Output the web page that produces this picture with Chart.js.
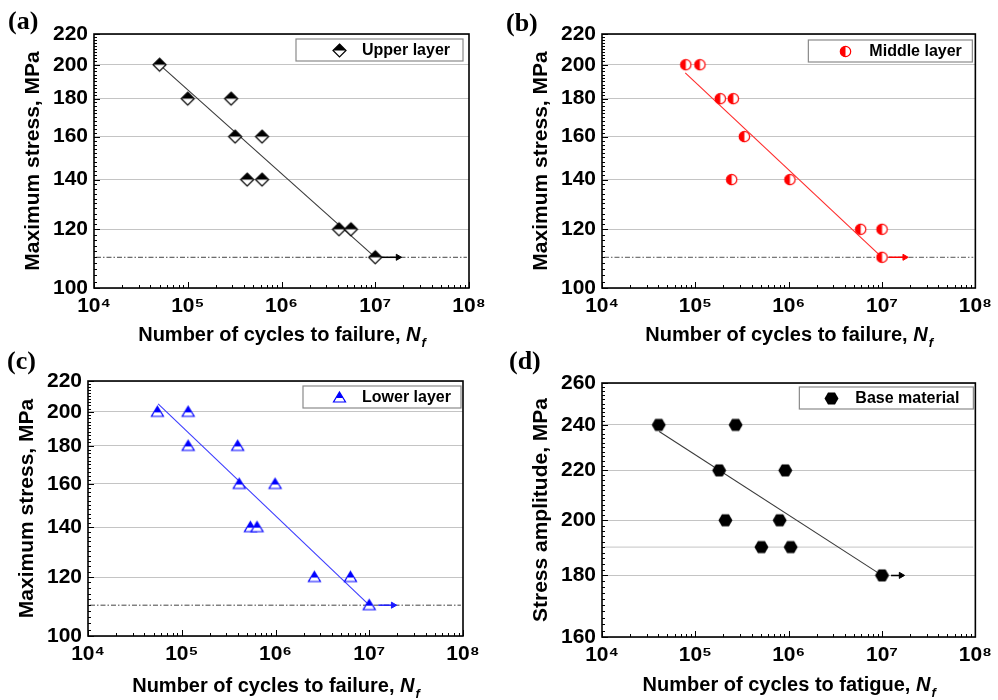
<!DOCTYPE html>
<html>
<head>
<meta charset="utf-8">
<title>S-N curves</title>
<script src="https://cdn.jsdelivr.net/npm/chart.js@4.4.1/dist/chart.umd.min.js"></script>
<style>
  html, body { margin:0; padding:0; background:#fff; }
  #fig { position:relative; width:998px; height:700px; background:#fff; overflow:hidden; }
  .pane { position:absolute; width:499px; height:350px; }
  .pane canvas { display:block; }
  .tag { position:absolute; font-family:'Liberation Serif','Times New Roman',serif; font-weight:bold; font-size:26px; line-height:26px; color:#000; }
</style>
</head>
<body>
<div id="fig">
  <div class="pane" style="left:0;top:0"><canvas id="chartA" width="499" height="350"></canvas></div>
  <div class="pane" style="left:499px;top:0"><canvas id="chartB" width="499" height="350"></canvas></div>
  <div class="pane" style="left:0;top:350px"><canvas id="chartC" width="499" height="350"></canvas></div>
  <div class="pane" style="left:499px;top:350px"><canvas id="chartD" width="499" height="350"></canvas></div>
  <div class="tag" style="left:8px;top:8px">(a)</div>
  <div class="tag" style="left:506px;top:10px">(b)</div>
  <div class="tag" style="left:7px;top:348px">(c)</div>
  <div class="tag" style="left:509px;top:348px">(d)</div>
</div>
<script>
// ---------------- data ----------------
const xTicks = [1e4, 1e5, 1e6, 1e7, 1e8];
const xTickLabels = ['10\u2074', '10\u2075', '10\u2076', '10\u2077', '10\u2078'];
const yTicksLayer = [100, 120, 140, 160, 180, 200, 220];
const yTicksBase = [160, 180, 200, 220, 240, 260];

// (a) upper layer
const upperCycles = [5.0e4, 1.0e5, 2.9e5, 3.2e5, 6.2e5, 4.3e5, 6.2e5, 4.1e6, 5.5e6, 1.0e7];
const upperStress = [200, 180, 180, 160, 160, 140, 140, 120, 120, 110];
const upperFitCycles = [5.0e4, 1.0e7];
const upperFitStress = [200, 110];
const upperArrowCycles = [1.17e7, 1.75e7];
const upperArrowStress = [110, 110];

// (b) middle layer
const middleCycles = [7.9e4, 1.12e5, 1.85e5, 2.55e5, 3.35e5, 2.45e5, 1.03e6, 5.9e6, 1.0e7, 1.0e7];
const middleStress = [200, 200, 180, 180, 160, 140, 140, 120, 120, 110];
const middleFitCycles = [7.8e4, 1.0e7];
const middleFitStress = [195, 110];
const middleArrowCycles = [1.18e7, 1.75e7];
const middleArrowStress = [110, 110];

// (c) lower layer
const lowerCycles = [5.5e4, 1.17e5, 1.17e5, 3.95e5, 4.1e5, 9.9e5, 5.4e5, 6.35e5, 2.6e6, 6.3e6, 1.0e7];
const lowerStress = [200, 200, 180, 180, 160, 160, 140, 140, 120, 120, 110];
const lowerFitCycles = [5.6e4, 1.0e7];
const lowerFitStress = [205, 110];
const lowerArrowCycles = [1.25e7, 1.8e7];
const lowerArrowStress = [110, 110];

// (d) base material
const baseCycles = [4.05e4, 2.7e5, 1.8e5, 9.2e5, 2.1e5, 8.0e5, 5.1e5, 1.05e6, 1.0e7];
const baseStress = [240, 240, 220, 220, 200, 200, 190, 190, 180];
const baseFitCycles = [4.1e4, 1.0e7];
const baseFitStress = [237, 180];
const baseArrowCycles = [1.25e7, 1.6e7];
const baseArrowStress = [180, 180];

// horizontal reference lines (fatigue limit)
const limitCycles = [1.05e4, 9.5e7];
const layerLimitStress = [110, 110];
const baseLimitStress = [190, 190];

// ---------------- helpers ----------------
const FONT = "'Liberation Sans', Arial, Helvetica, sans-serif";
Chart.defaults.font.family = FONT;
const pts = (xs, ys) => xs.map((x, i) => ({ x: x, y: ys[i] }));

function markerCanvas(kind, color) {
  const S = 17, m = S / 2;
  const c = document.createElement('canvas');
  c.width = S; c.height = S;
  const g = c.getContext('2d');
  g.lineWidth = 1.2; g.strokeStyle = color;
  if (kind === 'diamond') {
    const r = 6.5;
    const path = () => { g.beginPath(); g.moveTo(m, m - r); g.lineTo(m + r, m); g.lineTo(m, m + r); g.lineTo(m - r, m); g.closePath(); };
    path(); g.fillStyle = '#fff'; g.fill();
    g.beginPath(); g.moveTo(m, m - r); g.lineTo(m + r, m); g.lineTo(m - r, m); g.closePath();
    g.fillStyle = color; g.fill();
    path(); g.stroke();
  } else if (kind === 'circle') {
    const r = 5.2;
    g.beginPath(); g.arc(m, m, r, 0, 2 * Math.PI); g.fillStyle = '#fff'; g.fill();
    g.beginPath(); g.moveTo(m, m - r); g.arc(m, m, r, -Math.PI / 2, Math.PI / 2, true); g.closePath();
    g.fillStyle = color; g.fill();
    g.beginPath(); g.arc(m, m, r, 0, 2 * Math.PI); g.stroke();
  } else if (kind === 'triangle') {
    const w = 6, top = m - 5.5, bot = m + 4.5;
    const path = () => { g.beginPath(); g.moveTo(m, top); g.lineTo(m + w, bot); g.lineTo(m - w, bot); g.closePath(); };
    path(); g.fillStyle = '#fff'; g.fill();
    g.save(); g.beginPath(); g.rect(0, 0, S, m + 0.5); g.clip();
    path(); g.fillStyle = color; g.fill(); g.restore();
    path(); g.stroke();
  } else if (kind === 'hexagon') {
    const r = 7;
    g.beginPath();
    for (let k = 0; k < 6; k++) {
      const a = k * Math.PI / 3;
      const px = m + r * Math.cos(a), py = m + r * Math.sin(a);
      if (k === 0) g.moveTo(px, py); else g.lineTo(px, py);
    }
    g.closePath(); g.fillStyle = color; g.fill();
  }
  return c;
}

// frame + inward ticks
const framePlugin = {
  id: 'frame',
  afterDatasetsDraw(chart, args, o) {
    const { ctx, chartArea: a, scales: { x, y } } = chart;
    ctx.save();
    ctx.strokeStyle = '#000'; ctx.lineWidth = 1;
    ctx.beginPath();
    const lo = Math.round(Math.log10(x.min)), hi = Math.round(Math.log10(x.max));
    for (let e = lo; e <= hi; e++) {
      for (let mm = 1; mm <= 9; mm++) {
        const v = mm * Math.pow(10, e);
        if (v > x.max * 1.0001) break;
        const px = Math.round(x.getPixelForValue(v)) + 0.5;
        const len = mm === 1 ? 6 : 3;
        ctx.moveTo(px, a.bottom); ctx.lineTo(px, a.bottom - len);
      }
    }
    const step = o.yMinorStep || 2;
    for (let v = y.min; v <= y.max + 1e-6; v += step) {
      const py = Math.round(y.getPixelForValue(v)) + 0.5;
      const major = y.ticks.some(t => Math.abs(t.value - v) < 1e-6);
      ctx.moveTo(a.left, py); ctx.lineTo(a.left + (major ? 6 : 3), py);
    }
    ctx.stroke();
    ctx.lineWidth = 1.6;
    ctx.strokeRect(a.left, a.top, a.right - a.left, a.bottom - a.top);
    ctx.restore();
  }
};

// boxed legend inside plot area
const boxLegend = {
  id: 'boxLegend',
  afterDatasetsDraw(chart, args, o) {
    const { ctx, chartArea: a } = chart;
    const ds = chart.data.datasets[0];
    const left = a.right - o.right - o.width, top = a.top + o.top, h = o.height;
    ctx.save();
    ctx.fillStyle = '#fff'; ctx.fillRect(left, top, o.width, h);
    ctx.strokeStyle = '#8a8a8a'; ctx.lineWidth = 1.2; ctx.strokeRect(left, top, o.width, h);
    const img = ds.pointStyle;
    ctx.drawImage(img, Math.round(left + o.markerX - img.width / 2), Math.round(top + h / 2 - img.height / 2));
    ctx.font = 'bold 16px ' + FONT; ctx.fillStyle = '#000';
    ctx.textBaseline = 'middle'; ctx.textAlign = 'left';
    ctx.fillText(ds.label, left + o.textX, top + h / 2 + 1);
    ctx.restore();
  }
};

// x-axis title with italic N and subscript f
const richXTitle = {
  id: 'richXTitle',
  afterDraw(chart, args, o) {
    const { ctx, chartArea: a } = chart;
    const f1 = 'bold 20px ' + FONT, f2 = 'italic bold 20px ' + FONT, f3 = 'italic bold 13px ' + FONT;
    ctx.save();
    ctx.fillStyle = '#000'; ctx.textBaseline = 'alphabetic'; ctx.textAlign = 'left';
    ctx.font = f1; const w1 = ctx.measureText(o.text).width;
    ctx.font = f2; const w2 = ctx.measureText(o.symbol).width;
    ctx.font = f3; const w3 = ctx.measureText(o.sub).width;
    let x = (a.left + a.right) / 2 - (w1 + w2 + w3) / 2;
    const y = a.bottom + o.offset;
    ctx.font = f1; ctx.fillText(o.text, x, y); x += w1;
    ctx.font = f2; ctx.fillText(o.symbol, x, y); x += w2 + 1;
    ctx.font = f3; ctx.fillText(o.sub, x, y + 6);
    ctx.restore();
  }
};

function makeChart(id, p) {
  const W = 499, H = 350;
  return new Chart(document.getElementById(id), {
    type: 'scatter',
    data: {
      datasets: [
        { label: p.label, data: p.points, pointStyle: p.marker, pointRadius: 7, pointHoverRadius: 7,
          borderWidth: 0, showLine: false },
        { label: 'fit', data: p.fit, showLine: true, borderColor: p.lineColor, borderWidth: 1.1,
          pointRadius: 0, pointHoverRadius: 0, fill: false },
        { label: 'arrow', data: p.arrow, showLine: true, borderColor: p.arrowColor, borderWidth: 1.5,
          pointRadius: [0, 3.5], pointHoverRadius: [0, 3.5], pointStyle: 'triangle', pointRotation: 90,
          pointBackgroundColor: p.arrowColor, pointBorderColor: p.arrowColor, pointBorderWidth: 1 },
        { label: 'limit', data: p.limit, showLine: true, borderColor: p.limitColor, borderWidth: 1,
          borderDash: p.limitDash, pointRadius: 0, pointHoverRadius: 0 }
      ]
    },
    options: {
      responsive: false, animation: false, events: [],
      layout: { padding: { left: 0, top: p.area.top, right: W - p.area.right, bottom: 0 } },
      plugins: {
        legend: { display: false }, tooltip: { enabled: false },
        frame: { yMinorStep: 2 },
        boxLegend: p.legend,
        richXTitle: p.xTitle
      },
      scales: {
        x: {
          type: 'logarithmic', position: 'bottom', min: 1e4, max: 1e8,
          afterBuildTicks: s => { s.ticks = xTicks.map(v => ({ value: v })); },
          afterFit: s => { s.height = H - p.area.bottom; },
          grid: { display: false, drawTicks: false }, border: { display: false },
          ticks: { autoSkip: false, maxRotation: 0, padding: 6, color: '#000',
                   font: { size: 21, weight: 'bold' },
                   callback: v => { const i = xTicks.indexOf(v); return i >= 0 ? xTickLabels[i] : ''; } }
        },
        y: {
          type: 'logarithmic', position: 'left', min: p.ymin, max: p.ymax,
          afterBuildTicks: s => { s.ticks = p.yTicks.map(v => ({ value: v })); },
          afterFit: s => { s.width = p.area.left; },
          grid: { color: '#c4c4c4', lineWidth: 1, drawTicks: false }, border: { display: false },
          ticks: { autoSkip: false, padding: 6, color: '#000', font: { size: 21, weight: 'bold' },
                   callback: v => String(v) },
          title: { display: true, text: p.yTitle, color: '#000', font: { size: 21, weight: 'bold', lineHeight: 1.2 },
                   padding: { top: p.area.left - 73, bottom: 0 } }
        }
      }
    },
    plugins: [framePlugin, boxLegend, richXTitle]
  });
}

const dashDot = [5, 2, 1.5, 2];

makeChart('chartA', {
  label: 'Upper layer', marker: markerCanvas('diamond', '#000'),
  points: pts(upperCycles, upperStress), fit: pts(upperFitCycles, upperFitStress),
  arrow: pts(upperArrowCycles, upperArrowStress), limit: pts(limitCycles, layerLimitStress),
  lineColor: '#3a3a3a', arrowColor: '#000', limitColor: '#444', limitDash: dashDot,
  ymin: 100, ymax: 220, yTicks: yTicksLayer, yTitle: 'Maximum stress, MPa',
  area: { left: 94, top: 34, right: 469, bottom: 288 },
  legend: { right: 6, top: 5, width: 167, height: 22, markerX: 43, textX: 66 },
  xTitle: { text: 'Number of cycles to failure, ', symbol: 'N', sub: 'f', offset: 53 }
});
makeChart('chartB', {
  label: 'Middle layer', marker: markerCanvas('circle', '#ff0000'),
  points: pts(middleCycles, middleStress), fit: pts(middleFitCycles, middleFitStress),
  arrow: pts(middleArrowCycles, middleArrowStress), limit: pts(limitCycles, layerLimitStress),
  lineColor: '#ff2a2a', arrowColor: '#ff0000', limitColor: '#555', limitDash: dashDot,
  ymin: 100, ymax: 220, yTicks: yTicksLayer, yTitle: 'Maximum stress, MPa',
  area: { left: 103, top: 34, right: 477, bottom: 288 },
  legend: { right: 3, top: 6, width: 164, height: 22, markerX: 37, textX: 61 },
  xTitle: { text: 'Number of cycles to failure, ', symbol: 'N', sub: 'f', offset: 53 }
});
makeChart('chartC', {
  label: 'Lower layer', marker: markerCanvas('triangle', '#0000ff'),
  points: pts(lowerCycles, lowerStress), fit: pts(lowerFitCycles, lowerFitStress),
  arrow: pts(lowerArrowCycles, lowerArrowStress), limit: pts(limitCycles, layerLimitStress),
  lineColor: '#3d3dff', arrowColor: '#1a1aff', limitColor: '#444', limitDash: dashDot,
  ymin: 100, ymax: 220, yTicks: yTicksLayer, yTitle: 'Maximum stress, MPa',
  area: { left: 88, top: 31, right: 463, bottom: 286 },
  legend: { right: 2, top: 5, width: 158, height: 22, markerX: 36, textX: 59 },
  xTitle: { text: 'Number of cycles to failure, ', symbol: 'N', sub: 'f', offset: 56 }
});
makeChart('chartD', {
  label: 'Base material', marker: markerCanvas('hexagon', '#000'),
  points: pts(baseCycles, baseStress), fit: pts(baseFitCycles, baseFitStress),
  arrow: pts(baseArrowCycles, baseArrowStress), limit: pts(limitCycles, baseLimitStress),
  lineColor: '#3a3a3a', arrowColor: '#000', limitColor: '#c4c4c4', limitDash: [],
  ymin: 160, ymax: 260, yTicks: yTicksBase, yTitle: 'Stress amplitude, MPa',
  area: { left: 103, top: 33, right: 478, bottom: 287 },
  legend: { right: 2, top: 4, width: 174, height: 22, markerX: 32, textX: 56 },
  xTitle: { text: 'Number of cycles to fatigue, ', symbol: 'N', sub: 'f', offset: 54 }
});
</script>
</body>
</html>
